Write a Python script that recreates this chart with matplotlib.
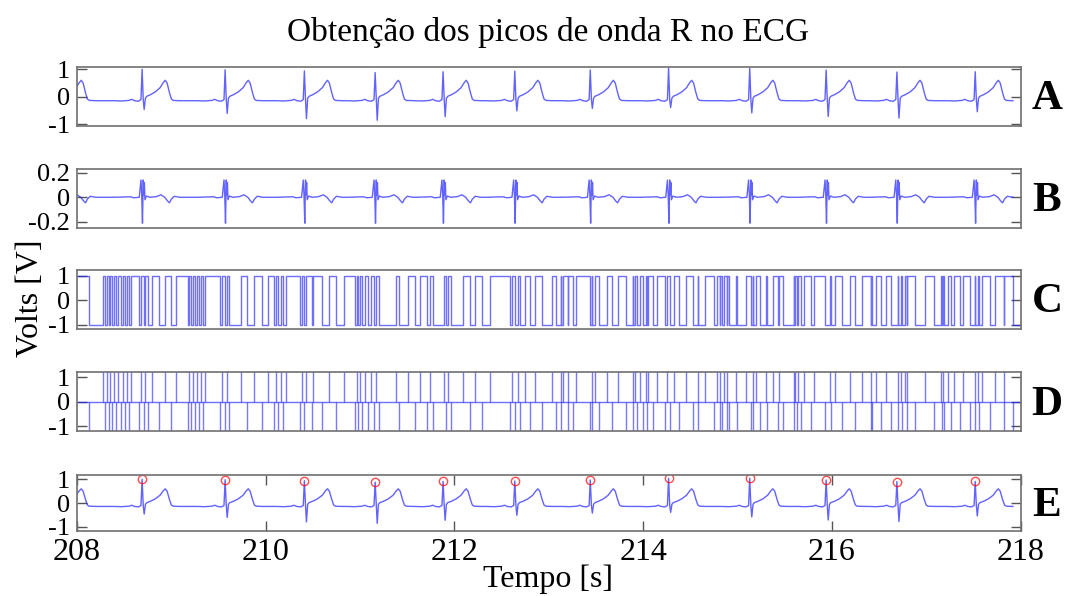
import numpy as np
import matplotlib.pyplot as plt

plt.rcParams['font.family'] = ['Liberation Serif', 'DejaVu Serif']
plt.rcParams['axes.unicode_minus'] = False

# R peak times [s] and amplitudes (first beat is just before 208 s)
r_times = [207.80, 208.69, 209.57, 210.41, 211.16, 211.88, 212.64,
           213.44, 214.27, 215.13, 215.94, 216.69, 217.52]
r_amps = [0.95, 1.00, 0.98, 0.94, 0.88, 0.91, 0.93,
          0.97, 1.04, 1.04, 0.97, 0.90, 0.91]
s_amps = [-0.50, -0.46, -0.60, -0.79, -0.85, -0.72, -0.51,
          -0.42, -0.39, -0.58, -0.71, -0.77, -0.54]

# one ECG beat, offsets from the R peak [s]; R and S values come from the lists above
ecg_offsets = [-0.30, -0.22, -0.14, -0.11, -0.08, -0.04, -0.012, 0.0, 0.012, 0.022,
               0.035, 0.05, 0.09, 0.14, 0.19, 0.225, 0.245, 0.265, 0.29, 0.31, 0.33, 0.40]
ecg_shape = [-0.14, -0.15, -0.13, -0.09, -0.14, -0.16, -0.10, None, -0.10, None,
             -0.05, 0.02, 0.08, 0.18, 0.33, 0.52, 0.60, 0.50, 0.15, -0.08, -0.13, -0.14]

# filtered beat (panel B)
filt_offsets = [-0.30, -0.12, -0.09, -0.03, -0.012, -0.004, 0.004, 0.012, 0.018, 0.024,
                0.03, 0.045, 0.08, 0.15, 0.20, 0.24, 0.27, 0.29, 0.31, 0.34, 0.40]
filt_shape = [0.0, 0.004, -0.004, 0.0, 0.14, 0.02, -0.21, 0.14, 0.02, 0.12,
              -0.02, 0.01, 0.0, 0.005, 0.02, 0.0, -0.03, -0.045, -0.015, 0.008, 0.0]

# switching times of the sign signal (panel C), starts high
c_start = 1
c_times = [208.126, 208.279, 208.297, 208.315, 208.337, 208.352, 208.374, 208.392,
           208.418, 208.436, 208.462, 208.483, 208.505, 208.527, 208.553, 208.571,
           208.662, 208.681, 208.710, 208.724, 208.754, 208.790, 208.871, 208.929,
           208.991, 209.046, 209.173, 209.192, 209.210, 209.228, 209.246, 209.272,
           209.294, 209.312, 209.338, 209.360, 209.520, 209.538, 209.564, 209.593,
           209.611, 209.739, 209.805, 209.878, 209.958, 210.024, 210.086, 210.104,
           210.133, 210.159, 210.184, 210.213, 210.359, 210.381, 210.403, 210.432,
           210.487, 210.505, 210.596, 210.669, 210.742, 210.834, 210.944, 210.966,
           210.980, 211.002, 211.024, 211.053, 211.082, 211.119, 211.144, 211.170,
           211.199, 211.382, 211.418, 211.510, 211.583, 211.638, 211.711, 211.740,
           211.769, 211.893, 211.915, 211.937, 211.959, 212.094, 212.167, 212.222,
           212.295, 212.375, 212.587, 212.613, 212.642, 212.671, 212.697, 212.752,
           212.800, 212.850, 212.931, 213.030, 213.080, 213.131, 213.135, 213.149,
           213.204, 213.208, 213.258, 213.294,
           213.439, 213.457, 213.461, 213.493, 213.530, 213.620, 213.674, 213.729,
           213.819, 213.892, 213.896, 213.910, 213.935, 213.964, 214.000, 214.036,
           214.040, 214.055, 214.109, 214.145, 214.236, 214.254, 214.290, 214.327,
           214.381, 214.454, 214.526, 214.581, 214.585, 214.653, 214.754, 214.780,
           214.816, 214.820, 214.835, 214.853, 214.889, 214.893, 214.907, 214.980,
           214.998, 215.089, 215.143, 215.161, 215.165, 215.198, 215.234, 215.307,
           215.311, 215.379, 215.434, 215.438, 215.488, 215.597, 215.601, 215.615,
           215.633, 215.637, 215.669, 215.706, 215.778, 215.815, 215.923, 215.977,
           215.995, 216.032, 216.104, 216.195, 216.249, 216.322, 216.412, 216.416,
           216.430, 216.466, 216.521, 216.575, 216.630, 216.702, 216.706, 216.738,
           216.742, 216.774, 216.792, 216.796, 216.883, 216.992, 217.082, 217.154,
           217.173, 217.177, 217.191, 217.227, 217.263, 217.300, 217.354, 217.390,
           217.463, 217.517, 217.521, 217.554, 217.558, 217.590, 217.680, 217.735,
           217.826, 217.830, 217.916]

panel_letters = ['A', 'B', 'C', 'D', 'E']
t0, t1 = 208, 218
line_col = '#2020ff'


def build_ecg():
    t, v = [], []
    for r, ra, sa in zip(r_times, r_amps, s_amps):
        for off, val in zip(ecg_offsets, ecg_shape):
            t.append(r + off)
            if off == 0.0:
                v.append(ra)
            elif off == 0.022:
                v.append(sa)
            else:
                v.append(val)
    return np.array(t), np.array(v)


def build_filtered():
    t, v = [], []
    for r in r_times:
        for off, val in zip(filt_offsets, filt_shape):
            t.append(r + off)
            v.append(val)
    return np.array(t), np.array(v)


def style_axis(ax):
    for sp in ax.spines.values():
        sp.set_color('#707070')
        sp.set_linewidth(1.2)
    ax.tick_params(direction='in', length=7, width=1, color='#555555',
                   left=True, right=True, top=False, bottom=False,
                   labelbottom=False, labelsize=19, pad=5)
    ax.set_xlim(t0, t1)


fig = plt.figure(figsize=(10.66, 5.96), dpi=100)
left, width = 77 / 1066, 943.5 / 1066
boxes = [(66.5, 125.8), (168.9, 227.5), (269.6, 328.9), (372.2, 431.4), (474.5, 531.0)]
axes = []
for top, bot in boxes:
    ax = fig.add_axes([left, 1 - bot / 596, width, (bot - top) / 596])
    style_axis(ax)
    axes.append(ax)

ecg_t, ecg_v = build_ecg()
filt_t, filt_v = build_filtered()

# A - raw ECG
axes[0].plot(ecg_t, ecg_v, color=line_col, lw=1.0, alpha=0.7)
axes[0].set_ylim(-1.05, 1.1)
axes[0].set_yticks([-1, 0, 1])

# B - filtered
axes[1].plot(filt_t, filt_v, color=line_col, lw=1.0, alpha=0.7)
axes[1].set_ylim(-0.245, 0.23)
axes[1].set_yticks([-0.2, 0, 0.2])
axes[1].set_yticklabels(['-0.2', '0', '0.2'])

# C - sign of the slope
levels = [c_start]
for _ in c_times:
    levels.append(-levels[-1])
c_t = [t0] + c_times + [t1]
c_v = levels + [levels[-1]]
axes[2].step(c_t, c_v, where='post', color=line_col, lw=1.0, alpha=0.65)
axes[2].set_ylim(-1.18, 1.25)
axes[2].set_yticks([-1, 0, 1])

# D - its difference
axes[3].axhline(0, color=line_col, lw=1.0, alpha=0.65)
axes[3].vlines(c_times, 0, [2 * lv for lv in levels[1:]], color=line_col, lw=1.0, alpha=0.6)
axes[3].set_ylim(-1.2, 1.2)
axes[3].set_yticks([-1, 0, 1])

# E - ECG with detected R peaks
axes[4].plot(ecg_t, ecg_v, color=line_col, lw=1.0, alpha=0.7)
axes[4].plot(r_times, r_amps, 'o', mfc='none', mec='red', mew=1.0, ms=6, alpha=0.7)
axes[4].set_ylim(-1.17, 1.2)
axes[4].set_yticks([-1, 0, 1])
axes[4].set_xticks([208, 210, 212, 214, 216, 218])
axes[4].tick_params(bottom=True, top=True, labelbottom=True, labelsize=23)
axes[4].tick_params(axis='y', labelsize=19)

for ax, letter, (top, bot) in zip(axes, panel_letters, boxes):
    fig.text(1047 / 1066, 1 - ((top + bot) / 2 + 3) / 596, letter, fontsize=31,
             fontweight='bold', ha='center', va='center')

fig.text(548 / 1066, 1 - 32 / 596, 'Obtenção dos picos de onda R no ECG',
         fontsize=24, ha='center', va='center')
fig.text(548 / 1066, 1 - 579 / 596, 'Tempo [s]', fontsize=23, ha='center', va='center')
fig.text(30 / 1066, 1 - 298 / 596, 'Volts [V]', fontsize=23, rotation=90,
         ha='center', va='center')

fig.savefig('out.png', dpi=100)
